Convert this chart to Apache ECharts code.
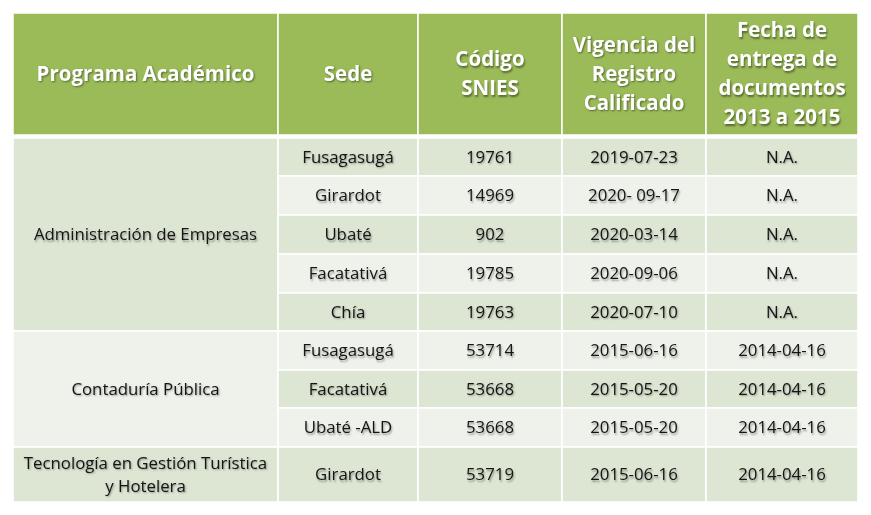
<!DOCTYPE html>
<html>
<head>
<meta charset="utf-8">
<script src="https://cdn.jsdelivr.net/npm/echarts@6/dist/echarts.min.js"></script>
<style>
  html, body { margin: 0; padding: 0; background: #fff; }
  #main { width: 871px; height: 515px; }
</style>
</head>
<body>
<div id="main"></div>
<script>
// table content
var headers = ['Programa Académico', 'Sede', 'Código\nSNIES', 'Vigencia del\nRegistro\nCalificado', 'Fecha de\nentrega de\ndocumentos\n2013 a 2015'];
var programas = ['Administración de Empresas', 'Contaduría Pública', 'Tecnología en Gestión Turística\ny Hotelera'];
var programaSpan = [5, 3, 1];
var sedes = ['Fusagasugá', 'Girardot', 'Ubaté', 'Facatativá', 'Chía', 'Fusagasugá', 'Facatativá', 'Ubaté -ALD', 'Girardot'];
var codigos = ['19761', '14969', '902', '19785', '19763', '53714', '53668', '53668', '53719'];
var vigencias = ['2019-07-23', '2020- 09-17', '2020-03-14', '2020-09-06', '2020-07-10', '2015-06-16', '2015-05-20', '2015-05-20', '2015-06-16'];
var entregas = ['N.A.', 'N.A.', 'N.A.', 'N.A.', 'N.A.', '2014-04-16', '2014-04-16', '2014-04-16', '2014-04-16'];

// layout (axis units)
var colEdges = [13, 278, 418, 562, 706, 858];
var headTop = 13, headBottom = 135, bodyTop = 138;
var rowHeights = [38, 39, 39, 39, 38, 39, 38, 39, 55];

var rowTops = [bodyTop];
for (var i = 0; i < rowHeights.length; i++) {
    rowTops.push(rowTops[i] + rowHeights[i]);
}

var HEAD = '#9bbb59';
var DARK = '#dde6d3';
var LIGHT = '#eef2ea';
var FONT = '"Open Sans", "DejaVu Sans", sans-serif';

// [col, rowStart, rowSpan, text, band]  rowStart -1 = header
var cells = [];
headers.forEach(function (h, c) {
    cells.push([c, -1, 1, h, 'head']);
});
var r = 0;
programas.forEach(function (p, g) {
    cells.push([0, r, programaSpan[g], p, g % 2 === 0 ? 'dark' : 'light']);
    r += programaSpan[g];
});
sedes.forEach(function (s, k) {
    var band = k % 2 === 0 ? 'dark' : 'light';
    cells.push([1, k, 1, s, band]);
    cells.push([2, k, 1, codigos[k], band]);
    cells.push([3, k, 1, vigencias[k], band]);
    cells.push([4, k, 1, entregas[k], band]);
});

function renderCell(params, api) {
    var col = api.value(0), row = api.value(1), span = api.value(2);
    var d = cells[params.dataIndex];
    var y0, y1;
    if (row < 0) { y0 = headTop; y1 = headBottom; }
    else { y0 = rowTops[row]; y1 = rowTops[row + span]; }
    var p0 = api.coord([colEdges[col], y0]);
    var p1 = api.coord([colEdges[col + 1], y1]);
    var isHead = d[4] === 'head';
    var fill = isHead ? HEAD : (d[4] === 'dark' ? DARK : LIGHT);
    return {
        type: 'group',
        children: [{
            type: 'rect',
            shape: { x: p0[0], y: p0[1], width: p1[0] - p0[0], height: p1[1] - p0[1] },
            style: { fill: fill, stroke: '#ffffff', lineWidth: isHead ? 1.5 : 1.6 }
        }, {
            type: 'text',
            x: (p0[0] + p1[0]) / 2,
            y: (p0[1] + p1[1]) / 2 + 1,
            style: {
                text: d[3],
                align: 'center',
                verticalAlign: 'middle',
                fill: isHead ? '#ffffff' : '#151515',
                font: (isHead ? 'bold 20.5px ' : '16.8px ') + FONT,
                lineHeight: isHead ? 29 : 23,
                textShadowColor: isHead ? 'rgba(40,50,20,0.6)' : 'rgba(0,0,0,0.35)',
                textShadowOffsetX: 1,
                textShadowOffsetY: 1.5,
                textShadowBlur: 2
            }
        }]
    };
}

var myChart = echarts.init(document.getElementById('main'));
var option = {
    backgroundColor: '#ffffff',
    animation: false,
    grid: { left: 0, right: 0, top: 0, bottom: 0 },
    xAxis: { type: 'value', min: 0, max: 871, show: false },
    yAxis: { type: 'value', min: 0, max: 515, inverse: true, show: false },
    series: [{
        type: 'custom',
        renderItem: renderCell,
        encode: { x: 0, y: 1 },
        data: cells,
        silent: true
    }]
};
myChart.setOption(option);
</script>
</body>
</html>
